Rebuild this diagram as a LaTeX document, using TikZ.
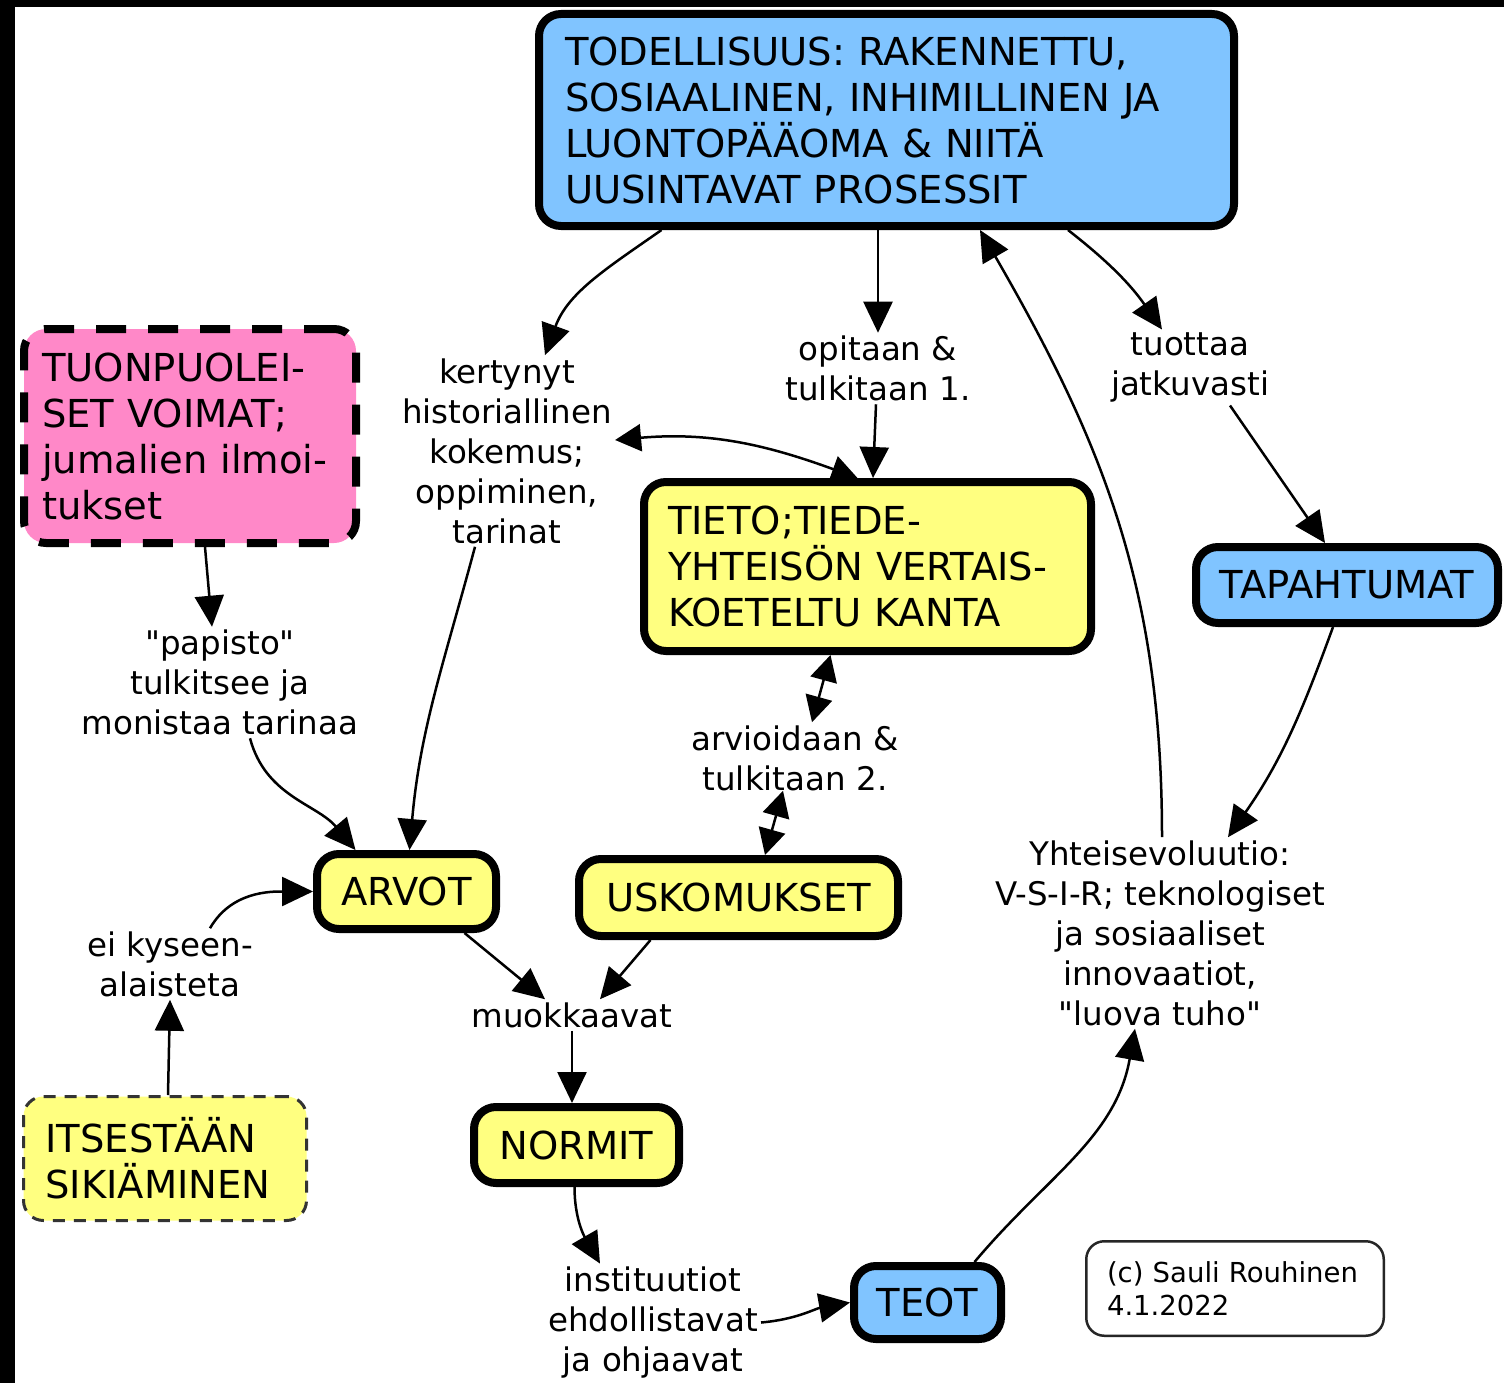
\documentclass[tikz,border=0pt]{standalone}
\usepackage{fontspec}
\usepackage{tikz}
\usetikzlibrary{arrows.meta}
\setmainfont{DejaVu Sans}

\definecolor{skyblue}{RGB}{128,196,255}
\definecolor{paleyellow}{RGB}{255,255,128}
\definecolor{hotpink}{RGB}{255,136,200}

\newcommand{\boxfont}{\fontsize{38.5}{46}\selectfont}
\newcommand{\labelfont}{\fontsize{32.5}{40}\selectfont}
\newcommand{\notefont}{\fontsize{27.5}{33}\selectfont}

\tikzset{
    box/.style={draw=black, line width=8pt, rounded corners=22pt, font=\boxfont},
    bluebox/.style={box, fill=skyblue},
    yellowbox/.style={box, fill=paleyellow},
    pinkbox/.style={box, fill=hotpink, dash pattern=on 30pt off 22pt},
    dashbox/.style={draw=black!80, line width=3pt, rounded corners=20pt, fill=paleyellow, dash pattern=on 12pt off 9pt, font=\boxfont},
    notebox/.style={draw=black!85, line width=2.5pt, rounded corners=18pt, fill=white, font=\notefont},
    label/.style={align=center, font=\labelfont, inner sep=3pt},
    arr/.style={-{Triangle[length=31pt,width=29pt]}, line width=2.5pt},
    biarr/.style={{Triangle[length=26pt,width=27pt]}-{Triangle[length=26pt,width=27pt]}, line width=2.5pt}
}

\begin{document}
\begin{tikzpicture}[x=1pt, y=1pt]
            \useasboundingbox (0,0) rectangle (1504,-1383);
            \fill[black] (0,0) rectangle (1504,-1383);
            \fill[white] (15,-7) rectangle (1504,-1383);

            \node[bluebox, align=left, text width=643pt, inner xsep=26pt, minimum height=212pt] (todellisuus) at (886.5,-120) {TODELLISUUS: RAKENNETTU,\\SOSIAALINEN, INHIMILLINEN JA\\LUONTOPÄÄOMA \& NIITÄ\\UUSINTAVAT PROSESSIT};
            \node[pinkbox, align=left, text width=296pt, inner xsep=18pt, minimum height=214pt] (tuonpuoleiset) at (190,-436) {TUONPUOLEI-\\SET VOIMAT;\\jumalien ilmoi-\\tukset};
            \node[yellowbox, align=left, text width=399pt, inner xsep=24pt, minimum height=169pt] (tieto) at (867.5,-566.5) {TIETO;TIEDE-\\YHTEISÖN VERTAIS-\\KOETELTU KANTA};
            \node[bluebox, minimum width=302pt, minimum height=76pt] (tapahtumat) at (1347,-585) {TAPAHTUMAT};
            \node[yellowbox, minimum width=179pt, minimum height=75pt] (arvot) at (406.5,-891.5) {ARVOT};
            \node[yellowbox, minimum width=319pt, minimum height=77pt] (uskomukset) at (738.5,-897.5) {USKOMUKSET};
            \node[yellowbox, minimum width=205pt, minimum height=76pt] (normit) at (576.5,-1145) {NORMIT};
            \node[bluebox, minimum width=147pt, minimum height=73pt] (teot) at (927.5,-1302.5) {TEOT};
            \node[dashbox, align=left, text width=239pt, inner xsep=22pt, minimum height=124pt] (itsestaan) at (165,-1158.5) {ITSESTÄÄN\\SIKIÄMINEN};
            \node[notebox, align=left, text width=256pt, inner xsep=20.75pt, minimum height=94.5pt] (tekija) at (1235,-1288.5) {(c) Sauli Rouhinen\\4.1.2022};

            \node[label] (kertynyt) at (507,-451) {kertynyt\\historiallinen\\kokemus;\\oppiminen,\\tarinat};
            \node[label] (opitaan) at (878,-368.5) {opitaan \&\\tulkitaan 1.};
            \node[label] (tuottaa) at (1190,-367.5) {tuottaa\\jatkuvasti};
            \node[label] (papisto) at (220,-682.5) {\textquotedbl papisto\textquotedbl\\tulkitsee ja\\monistaa tarinaa};
            \node[label] (arvioidaan) at (795,-758) {arvioidaan \&\\tulkitaan 2.};
            \node[label] (eikyseen) at (170,-964) {ei kyseen-\\alaisteta};
            \node[label] (muokkaavat) at (572,-1015) {muokkaavat};
            \node[label] (instituutiot) at (653,-1322.5) {instituutiot\\ehdollistavat\\ja ohjaavat};
            \node[label] (yhteis) at (1160,-933) {Yhteisevoluutio:\\V-S-I-R; teknologiset\\ja sosiaaliset\\innovaatiot,\\\textquotedbl luova tuho\textquotedbl};

            \draw[arr] ([xshift=126.5pt]todellisuus.south west) to[out=215, in=70] ([xshift=38pt]kertynyt.north);
            \draw[arr] (todellisuus.south -| opitaan.north) -- (opitaan.north);
            \draw[arr] ([xshift=-2pt]opitaan.south) -- ([xshift=5.5pt]tieto.north);
            \draw[biarr] ([yshift=11pt]kertynyt.east) to[out=5, in=160] ([xshift=-10pt]tieto.north);
            \draw[arr] ([xshift=-32pt]kertynyt.south) to[out=-105, in=85] ([xshift=3pt]arvot.north);
            \draw[arr] ([xshift=15pt]tuonpuoleiset.south) -- ([xshift=-8pt]papisto.north);
            \draw[arr] ([xshift=30pt]papisto.south) to[out=-75, in=130] ([xshift=-51pt]arvot.north);
            \draw[arr] ([xshift=40pt]eikyseen.north) to[out=60, in=180] (arvot.west);
            \draw[arr] ([xshift=3pt]itsestaan.north) -- (eikyseen.south);
            \draw[arr] ([xshift=58pt]arvot.south) -- ([xshift=-27pt]muokkaavat.north);
            \draw[arr] ([xshift=-88pt]uskomukset.south) -- ([xshift=28pt]muokkaavat.north);
            \draw[arr] (muokkaavat.south) -- (muokkaavat.south |- normit.north);
            \draw[arr] ([xshift=-2pt]normit.south) to[out=-90, in=120] ([xshift=-53pt]instituutiot.north);
            \draw[arr] (instituutiot.east) to[out=5, in=190] (teot.west);
            \draw[arr] ([xshift=47pt]teot.north) to[out=50, in=-100] ([xshift=-25pt]yhteis.south);
            \draw[arr] ([xshift=2pt]yhteis.north) to[out=90, in=-60] ([xshift=93.5pt]todellisuus.south);
            \draw[arr] ([xshift=181.5pt]todellisuus.south) to[out=-38, in=125] ([xshift=-28pt]tuottaa.north);
            \draw[arr] ([xshift=40pt]tuottaa.south) -- ([xshift=-22pt]tapahtumat.north);
            \draw[arr] ([xshift=-14pt]tapahtumat.south) to[out=-110, in=55] ([xshift=68pt]yhteis.north);
            \draw[biarr] ([xshift=-37pt]tieto.south) -- ([xshift=17pt]arvioidaan.north);
            \draw[biarr] ([xshift=-12pt,yshift=3pt]arvioidaan.south) -- ([xshift=26.5pt]uskomukset.north);
\end{tikzpicture}
\end{document}
